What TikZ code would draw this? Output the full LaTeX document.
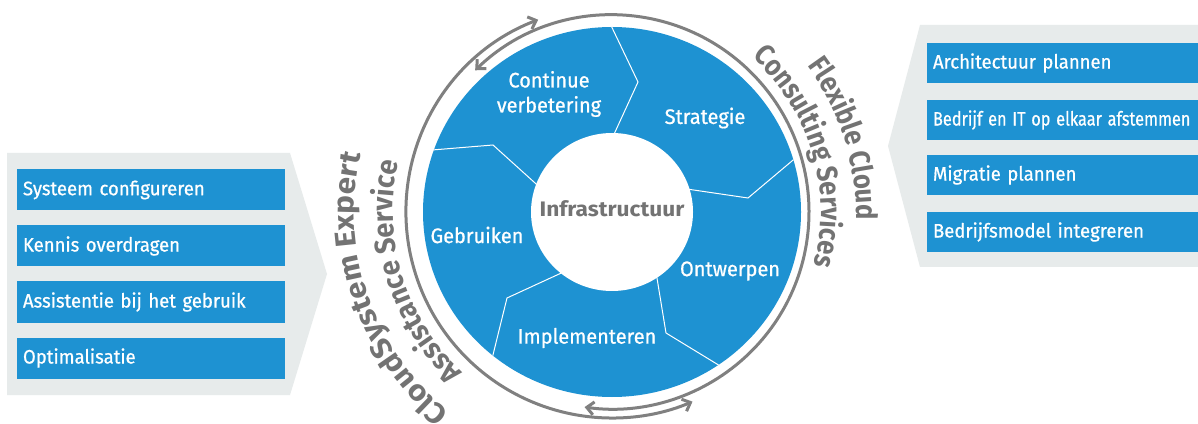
\documentclass[tikz,border=0pt]{standalone}
\usepackage{fontspec}
\setmainfont{Fira Sans}[FakeStretch=0.88]
\newfontfamily\medfont{Fira Sans}[FakeStretch=0.95, FakeBold=0.7, WordSpace=0.6]
\newfontfamily\widefont{Fira Sans}[FakeStretch=1.08]
\newfontfamily\midfont{Fira Sans}[FakeStretch=0.94]
\usetikzlibrary{arrows.meta,decorations.text}
\definecolor{hpblue}{RGB}{30,146,210}
\definecolor{ringgray}{RGB}{128,128,128}
\definecolor{txtgray}{RGB}{115,115,115}
\definecolor{panelgray}{RGB}{231,235,235}
\newcommand\curvefont{\fontsize{29}{29}\selectfont\bfseries\color{txtgray}}
\newcommand\curvewide{\widefont\fontsize{29}{29}\selectfont\bfseries\color{txtgray}}
\newcommand\curvemid{\midfont\fontsize{29}{29}\selectfont\bfseries\color{txtgray}}
\begin{document}
\begin{tikzpicture}[x=1pt,y=1pt,
  panel/.style={fill=panelgray},
  leftbox/.style={fill=hpblue, minimum width=268pt, minimum height=41pt, text width=256pt, inner xsep=6pt, inner ysep=0pt, align=left, text=white, font=\medfont\fontsize{19.5}{21}\selectfont},
  rightbox/.style={fill=hpblue, minimum width=271pt, minimum height=40pt, text width=259pt, inner xsep=6pt, inner ysep=0pt, align=left, text=white, font=\medfont\fontsize{19.5}{21}\selectfont},
  seglabel/.style={text=white, font=\medfont\fontsize{21}{25}\selectfont, align=center, inner sep=0pt},
  divider/.style={draw=white, line width=1pt},
  ring/.style={draw=ringgray, line width=3pt},
  tip/.style={{Straight Barb[length=7pt,width=13pt]}-{Straight Barb[length=7pt,width=13pt]}}
]
\useasboundingbox (0,0) rectangle (1198,423);
\fill[white] (0,0) rectangle (1198,423);
% side panels
\fill[panel] (7,270) -- (290,270) -- (327,149) -- (290,28) -- (7,28) -- cycle;
\fill[panel] (1198,398) -- (920,398) -- (888,277) -- (920,156) -- (1198,156) -- cycle;
% left boxes
\node[leftbox] (l1) at (151,233) {\mbox{Systeem configureren}};
\node[leftbox] (l2) at (151,177) {\mbox{Kennis overdragen}};
\node[leftbox] (l3) at (151,121) {\mbox{Assistentie bij het gebruik}};
\node[leftbox] (l4) at (151,65) {\mbox{Optimalisatie}};
% right boxes
\node[rightbox] (r1) at (1062.5,360) {\mbox{Architectuur plannen}};
\node[rightbox] (r2) at (1062.5,303) {\scalebox{0.88}[1]{\mbox{Bedrijf en IT op elkaar afstemmen}}};
\node[rightbox] (r3) at (1062.5,248) {\mbox{Migratie plannen}};
\node[rightbox] (r4) at (1062.5,191) {\mbox{Bedrijfsmodel integreren}};
% wheel
\coordinate (O) at (612,211);
\fill[hpblue] (O) ellipse[x radius=189, y radius=185];
\begin{scope}
  \clip (O) ellipse[x radius=189, y radius=185];
  \draw[divider] (610,280) -- (638,341) -- (606,408);
  \draw[divider] (680,235) -- (748,225) -- (805,273);
  \draw[divider] (655,157) -- (666,90) -- (730,51);
  \draw[divider] (570,154) -- (507,125) -- (490,56);
  \draw[divider] (545,231) -- (493,278) -- (420,272);
\end{scope}
\fill[white] (O) ellipse[x radius=81, y radius=79];
% labels
\node[seglabel] (s1) at (549,329) {Continue\\verbetering};
\node[seglabel] (s2) at (705,305) {Strategie};
\node[seglabel] (s3) at (730,152) {Ontwerpen};
\node[seglabel] (s4) at (587,85) {Implementeren};
\node[seglabel] (s5) at (477,188) {Gebruiken};
\node[text=txtgray, font=\widefont\fontsize{21}{24}\selectfont\bfseries, inner sep=0pt] (inf) at (612,214) {Infrastructuur};
% rings with arrows
\draw[ring, tip] (O) ++(134:197) arc[start angle=134, end angle=-98, radius=197];
\draw[ring, tip] (O) ++(111:206) arc[start angle=111, end angle=293, radius=206];
% curved texts
\path[decorate, decoration={text along path, text align=center, text={|\curvewide|CloudSystem Expert}}]
  (O) ++(244:258) arc[start angle=244, end angle=154, radius=258];
\path[decorate, decoration={text along path, text align=center, text={|\curvemid|Assistance Service}}]
  (O) ++(242:219) arc[start angle=242, end angle=152, radius=219];
\path[decorate, decoration={text along path, text align=center, text={|\curvefont|Flexible Cloud}}]
  (O) ++(62.5:244) arc[start angle=62.5, end angle=-27.5, radius=244];
\path[decorate, decoration={text along path, text align=center, text={|\curvefont|Consulting Services}}]
  (O) ++(61.5:209) arc[start angle=61.5, end angle=-28.5, radius=209];
\end{tikzpicture}
\end{document}
